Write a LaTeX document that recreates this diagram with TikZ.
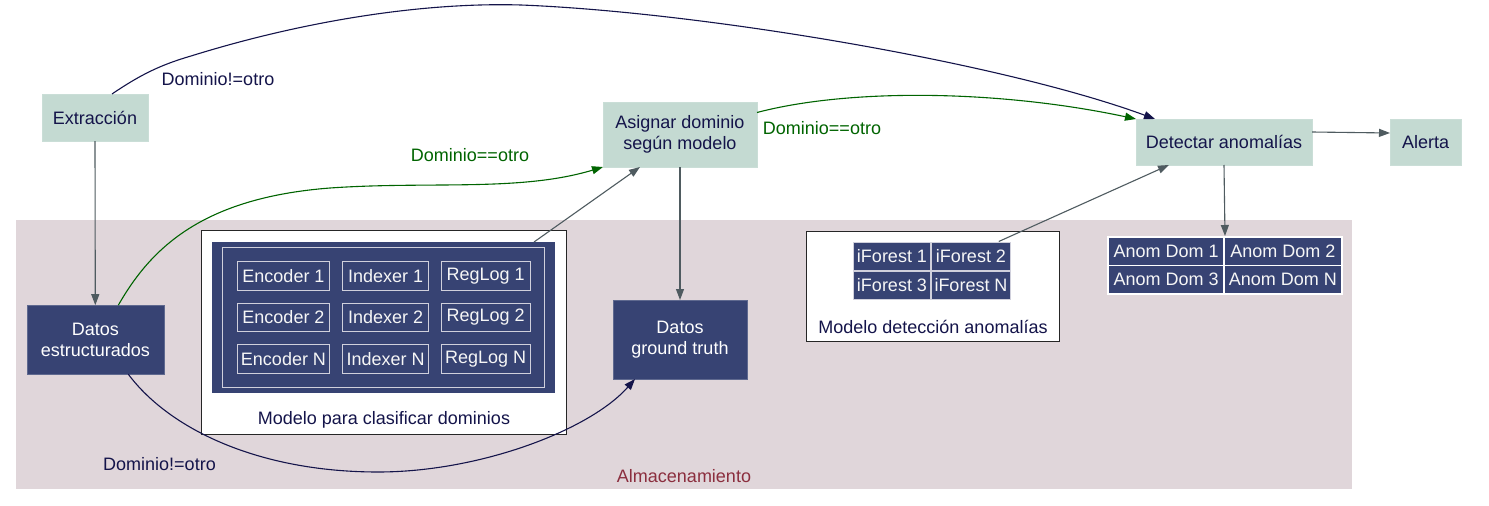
\documentclass[tikz,border=0pt]{standalone}
\usepackage{fontspec}
\setmainfont{Liberation Sans}
\usetikzlibrary{arrows.meta}
\definecolor{tealbox}{HTML}{C4DAD2}
\definecolor{darkbox}{HTML}{374373}
\definecolor{pinkbg}{HTML}{E0D6DA}
\definecolor{navytxt}{HTML}{14144A}
\definecolor{edgegray}{HTML}{4F5B60}
\definecolor{dgreen}{HTML}{006400}
\definecolor{storelbl}{HTML}{8B2E3E}
\definecolor{celledge}{HTML}{D0D0DC}
\tikzset{
  every node/.style={font=\fontsize{18}{21}\selectfont, inner sep=0pt, outer sep=0pt},
  procbox/.style={fill=tealbox, draw=tealbox!90!white, text=navytxt, align=center},
  databox/.style={fill=darkbox, draw=darkbox!80!white, text=white, align=center},
  cellbox/.style={fill=darkbox, draw=celledge, line width=1pt, text=white!93!gray},
  grayedge/.style={draw=edgegray, line width=1.1pt, -{Triangle[length=11pt,width=8pt]}},
  navyedge/.style={draw=navytxt, line width=1.1pt, -{Triangle[length=11pt,width=8pt]}},
  greenedge/.style={draw=dgreen, line width=1.1pt, -{Triangle[length=11pt,width=8pt]}},
  navylbl/.style={text=navytxt},
  greenlbl/.style={text=dgreen},
}
\begin{document}
\begin{tikzpicture}[x=1pt,y=-1pt]
\useasboundingbox (0,0) rectangle (1489,506);
\fill[white] (0,0) rectangle (1489,506);
% storage cluster
\fill[pinkbg] (16,220) rectangle (1352,489);
\node[text=storelbl] (storelabel) at (684,476) {Almacenamiento};

% process boxes
\node[procbox, minimum width=106pt, minimum height=47pt] (ext) at (95,117.5) {Extracción};
\node[procbox, minimum width=154pt, minimum height=65pt] (asg) at (680,134.5) {Asignar dominio\\según modelo};
\node[procbox, minimum width=176pt, minimum height=46pt] (det) at (1224,142) {Detectar anomalías};
\node[procbox, minimum width=71pt, minimum height=46pt] (alr) at (1425.5,142) {Alerta};

% data boxes
\node[databox, minimum width=137pt, minimum height=69pt] (dat) at (95.3,339.7) {Datos\\estructurados};
\node[databox, minimum width=134pt, minimum height=79pt] (gt) at (680,339.5) {Datos\\ground truth};

% classification model
\node[fill=white, draw=black!85, line width=1pt, minimum width=364.5pt, minimum height=204pt] (clsbox) at (383.75,332.5) {};
\node[fill=darkbox, minimum width=343pt, minimum height=151pt] (clstab) at (383.5,317.5) {};
\node[draw=celledge, line width=1pt, minimum width=322pt, minimum height=140pt] (clsin) at (383.5,317.5) {};
\node[cellbox, minimum width=92.4pt, minimum height=28.6pt] (enc1) at (283.5,276) {Encoder 1};
\node[cellbox, minimum width=86pt, minimum height=28.6pt] (idx1) at (385.7,276) {Indexer 1};
\node[cellbox, minimum width=88.7pt, minimum height=28.6pt] (reg1) at (485.7,276) {RegLog 1};
\node[cellbox, minimum width=92.4pt, minimum height=28.6pt] (enc2) at (283.5,317.5) {Encoder 2};
\node[cellbox, minimum width=86pt, minimum height=28.6pt] (idx2) at (385.7,317.5) {Indexer 2};
\node[cellbox, minimum width=88.7pt, minimum height=28.6pt] (reg2) at (485.7,317.5) {RegLog 2};
\node[cellbox, minimum width=92.4pt, minimum height=28.6pt] (encN) at (283.5,358.8) {Encoder N};
\node[cellbox, minimum width=86pt, minimum height=28.6pt] (idxN) at (385.7,358.8) {Indexer N};
\node[cellbox, minimum width=88.7pt, minimum height=28.6pt] (regN) at (485.7,358.8) {RegLog N};
\node[text=navytxt] (clslbl) at (384,420) {Modelo para clasificar dominios};

% anomaly model
\node[fill=white, draw=black!85, line width=1pt, minimum width=253.5pt, minimum height=110.7pt] (detbox) at (932.75,286.35) {};
\node[fill=celledge, minimum width=158.5pt, minimum height=58.5pt] (iftab) at (931.75,270.75) {};
\node[cellbox, draw=none, minimum width=76pt, minimum height=27.5pt] (if1) at (892,256.5) {iForest 1};
\node[cellbox, draw=none, minimum width=78pt, minimum height=27.5pt] (if2) at (971,256.5) {iForest 2};
\node[cellbox, draw=none, minimum width=76pt, minimum height=27.5pt] (if3) at (892,285.4) {iForest 3};
\node[cellbox, draw=none, minimum width=78pt, minimum height=27.5pt] (ifN) at (971,285.4) {iForest N};
\node[text=navytxt] (detlbl) at (933,327) {Modelo detección anomalías};

% anomalies table
\node[fill=white, minimum width=236pt, minimum height=59pt] (anomtab) at (1225,265.5) {};
\node[cellbox, draw=none, minimum width=113.5pt, minimum height=27.3pt] (an1) at (1166.2,251.4) {Anom Dom 1};
\node[cellbox, draw=none, minimum width=115.7pt, minimum height=27.3pt] (an2) at (1282.8,251.4) {Anom Dom 2};
\node[cellbox, draw=none, minimum width=113.5pt, minimum height=27pt] (an3) at (1166.2,279.8) {Anom Dom 3};
\node[cellbox, draw=none, minimum width=115.7pt, minimum height=27pt] (anN) at (1282.8,279.8) {Anom Dom N};

% edges
\draw[grayedge] (ext.south) -- (dat.north);
\draw[navyedge] ([xshift=17pt]ext.north) .. controls (140,75) and (160,65) .. (191,56)
   .. controls (300,22) and (420,2) .. (521,5)
   .. controls (700,12) and (1000,62) .. ([xshift=-69pt]det.north);
\node[navylbl] (lblA) at (218,79) {Dominio!=otro};

\draw[greenedge] ([xshift=23pt]dat.north) .. controls (150,250) and (200,198) .. (330,188)
   .. controls (430,181) and (520,192) .. (asg.south west);
\node[greenlbl] (lblB) at (470,155) {Dominio==otro};

\draw[navyedge] ([xshift=33pt]dat.south) .. controls (170,430) and (260,472) .. (378,472)
   .. controls (480,472) and (590,430) .. ([xshift=-45pt]gt.south);
\node[navylbl] (lblC) at (159.5,464) {Dominio!=otro};

\draw[grayedge] ([xshift=150.5pt]clstab.north) -- ([xshift=-40pt]asg.south);
\draw[grayedge] (asg.south) -- (gt.north);

\draw[greenedge] ([yshift=22pt]asg.east) .. controls (850,88) and (1000,90) .. (det.north west);
\node[greenlbl] (lblD) at (822,128) {Dominio==otro};

\draw[grayedge] ([xshift=67pt]iftab.north) -- ([xshift=-55pt]det.south);
\draw[grayedge] (det.south) -- (anomtab.north);
\draw[grayedge] ([yshift=10pt]det.east) -- ([yshift=9pt]alr.west);
\end{tikzpicture}
\end{document}
